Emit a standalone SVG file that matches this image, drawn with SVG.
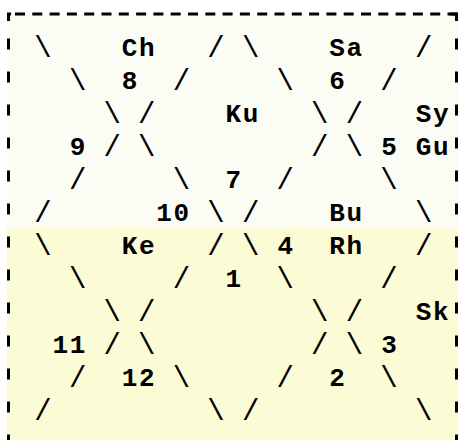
<svg xmlns="http://www.w3.org/2000/svg" width="458" height="440" viewBox="0 0 458 440">
<style>
text{font-family:"Liberation Mono","DejaVu Sans Mono",monospace;font-weight:bold;font-size:26px;fill:#000;text-anchor:middle}
#connectors text{font-weight:normal;font-size:29px}
.b{fill:none;stroke:#000;stroke-width:3}
</style>
<rect width="458" height="440" fill="#fff"/>
<rect x="7" y="14" width="451" height="214" fill="#fbfcf3"/>
<rect x="7" y="228" width="451" height="212" fill="#fbfbd6"/>
<g id="frame">
<line class="b" x1="15" y1="14" x2="458" y2="14" stroke-dasharray="10 7.3"/>
<path class="b" d="M7 14H11M8.5 13V21M450 14H458M456.5 13V21"/>
<line class="b" x1="8.5" y1="38.5" x2="8.5" y2="440" stroke-dasharray="11 22"/>
<line class="b" x1="456.5" y1="38.5" x2="456.5" y2="440" stroke-dasharray="11 22"/>
</g>
<g id="connectors">
<text y="57" x="43">\</text><text y="57" x="216">/</text><text y="57" x="250.6">\</text><text y="57" x="423.6">/</text>
<text y="90" x="77.6">\</text><text y="90" x="181.4">/</text><text y="90" x="285.2">\</text><text y="90" x="389">/</text>
<text y="123" x="112.2">\</text><text y="123" x="146.8">/</text><text y="123" x="319.8">\</text><text y="123" x="354.4">/</text>
<text y="156" x="112.2">/</text><text y="156" x="146.8">\</text><text y="156" x="319.8">/</text><text y="156" x="354.4">\</text>
<text y="189" x="77.6">/</text><text y="189" x="181.4">\</text><text y="189" x="285.2">/</text><text y="189" x="389">\</text>
<text y="222" x="43">/</text><text y="222" x="216">\</text><text y="222" x="250.6">/</text><text y="222" x="423.6">\</text>
<text y="255" x="43">\</text><text y="255" x="216">/</text><text y="255" x="250.6">\</text><text y="255" x="423.6">/</text>
<text y="288" x="77.6">\</text><text y="288" x="181.4">/</text><text y="288" x="285.2">\</text><text y="288" x="389">/</text>
<text y="321" x="112.2">\</text><text y="321" x="146.8">/</text><text y="321" x="319.8">\</text><text y="321" x="354.4">/</text>
<text y="354" x="112.2">/</text><text y="354" x="146.8">\</text><text y="354" x="319.8">/</text><text y="354" x="354.4">\</text>
<text y="387" x="77.6">/</text><text y="387" x="181.4">\</text><text y="387" x="285.2">/</text><text y="387" x="389">\</text>
<text y="420" x="43">/</text><text y="420" x="216">\</text><text y="420" x="250.6">/</text><text y="420" x="423.6">\</text>
</g>
<g id="Ch"><text y="56" x="129.5 146.8">Ch</text></g>
<g id="Sa"><text y="56" x="337.1 354.4">Sa</text></g>
<g id="n8"><text y="89" x="129.5">8</text></g>
<g id="n6"><text y="89" x="337.1">6</text></g>
<g id="Ku"><text y="122" x="233.3 250.6">Ku</text></g>
<g id="Sy"><text y="122" x="423.6 440.9">Sy</text></g>
<g id="n9"><text y="155" x="77.6">9</text></g>
<g id="n5"><text y="155" x="389">5</text></g>
<g id="Gu"><text y="155" x="423.6 440.9">Gu</text></g>
<g id="n7"><text y="188" x="233.3">7</text></g>
<g id="n10"><text y="221" x="164.1 181.4">10</text></g>
<g id="Bu"><text y="221" x="337.1 354.4">Bu</text></g>
<g id="Ke"><text y="254" x="129.5 146.8">Ke</text></g>
<g id="n4"><text y="254" x="285.2">4</text></g>
<g id="Rh"><text y="254" x="337.1 354.4">Rh</text></g>
<g id="n1"><text y="287" x="233.3">1</text></g>
<g id="Sk"><text y="320" x="423.6 440.9">Sk</text></g>
<g id="n11"><text y="353" x="60.3 77.6">11</text></g>
<g id="n3"><text y="353" x="389">3</text></g>
<g id="n12"><text y="386" x="129.5 146.8">12</text></g>
<g id="n2"><text y="386" x="337.1">2</text></g>
</svg>
